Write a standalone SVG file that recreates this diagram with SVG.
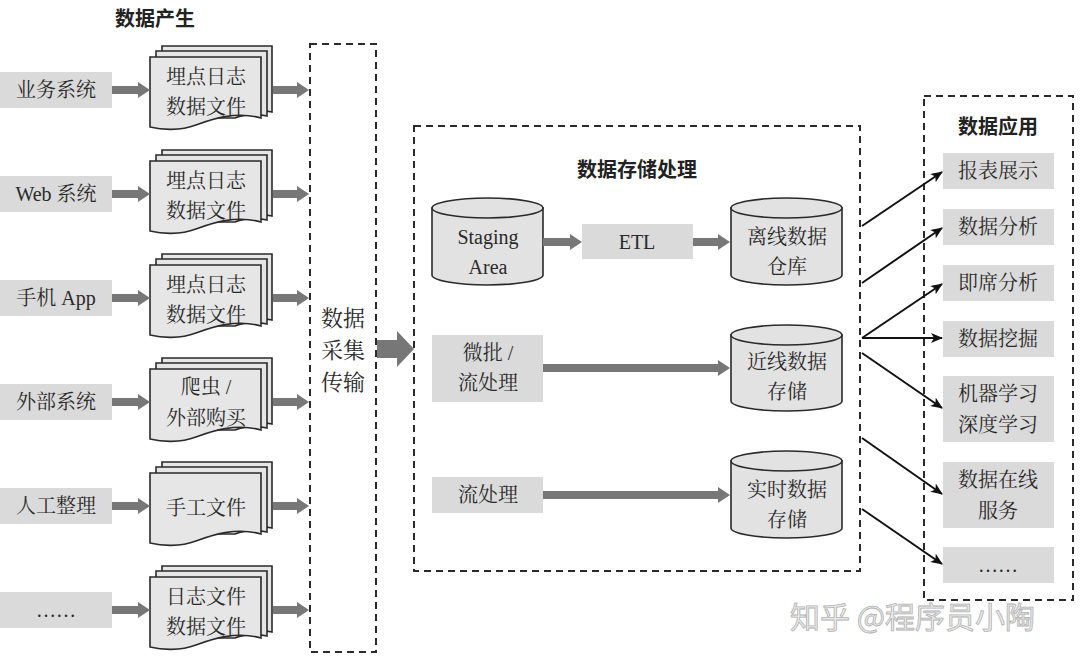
<svg xmlns="http://www.w3.org/2000/svg" xmlns:xlink="http://www.w3.org/1999/xlink" width="1080" height="661" viewBox="0 0 1080 661">
<style>
  .t { font-family: "Liberation Serif", "Noto Serif CJK SC", "Noto Sans CJK SC", serif; font-size: 20px; fill: #2a2a2a; text-anchor: middle; dominant-baseline: central; }
  .h { font-family: "Noto Sans CJK SC", "Liberation Sans", sans-serif; font-size: 20px; font-weight: bold; fill: #222; text-anchor: middle; dominant-baseline: central; }
  .box { fill: #dadada; }
  .page { fill: #e6e6e6; stroke: #2a2a2a; stroke-width: 1.6; }
  .cyl { fill: #e2e2e2; stroke: #2a2a2a; stroke-width: 1.6; }
  .dash { fill: none; stroke: #2a2a2a; stroke-width: 2; stroke-dasharray: 7 5; }
  .fat { fill: #777; }
  .thin { stroke: #111; stroke-width: 2; fill: none; marker-end: url(#ah); }
  .wm { font-family: "Noto Sans CJK SC", sans-serif; font-size: 30px; fill: #ececec; stroke: #b0b0b0; stroke-width: 0.8; }
</style>
<defs>
  <marker id="ah" viewBox="0 0 12 10" refX="11" refY="5" markerWidth="12" markerHeight="10" markerUnits="userSpaceOnUse" orient="auto">
    <path d="M0,0 L12,5 L0,10 L3,5 Z" fill="#111"/>
  </marker>
  <g id="doc">
    <path class="page" d="M12,-11 H122 V55 C110,52 100,53 90,57 L12,57 Z"/>
    <path class="page" d="M6,-6 H117 V59 C105,56 95,57 85,61 L6,61 Z"/>
    <path class="page" d="M0,0 H111 V61 C86,54 62,62 46,68 C30,74 12,73 0,70 Z"/>
  </g>
</defs>
<rect width="1080" height="661" fill="#fff"/>

<text class="h" x="155" y="17">数据产生</text>

<g id="sources">
  <g id="src1"><rect class="box" x="0" y="72" width="112" height="36"/><text class="t" x="56" y="90">业务系统</text></g>
  <g id="src2"><rect class="box" x="0" y="176" width="112" height="36"/><text class="t" x="56" y="194">Web 系统</text></g>
  <g id="src3"><rect class="box" x="0" y="280" width="112" height="36"/><text class="t" x="56" y="298">手机 App</text></g>
  <g id="src4"><rect class="box" x="0" y="384" width="112" height="36"/><text class="t" x="56" y="402">外部系统</text></g>
  <g id="src5"><rect class="box" x="0" y="488" width="112" height="36"/><text class="t" x="56" y="506">人工整理</text></g>
  <g id="src6"><rect class="box" x="0" y="592" width="112" height="36"/><text class="t" x="56" y="610">……</text></g>
</g>

<g id="docs">
  <g id="doc1"><use xlink:href="#doc" href="#doc" x="150" y="57"/><text class="t" x="206" y="77">埋点日志</text><text class="t" x="206" y="107">数据文件</text></g>
  <g id="doc2"><use xlink:href="#doc" href="#doc" x="150" y="161"/><text class="t" x="206" y="181">埋点日志</text><text class="t" x="206" y="211">数据文件</text></g>
  <g id="doc3"><use xlink:href="#doc" href="#doc" x="150" y="265"/><text class="t" x="206" y="285">埋点日志</text><text class="t" x="206" y="315">数据文件</text></g>
  <g id="doc4"><use xlink:href="#doc" href="#doc" x="150" y="369"/><text class="t" x="206" y="387">爬虫 /</text><text class="t" x="206" y="418">外部购买</text></g>
  <g id="doc5"><use xlink:href="#doc" href="#doc" x="150" y="473"/><text class="t" x="206" y="508">手工文件</text></g>
  <g id="doc6"><use xlink:href="#doc" href="#doc" x="150" y="577"/><text class="t" x="206" y="597">日志文件</text><text class="t" x="206" y="627">数据文件</text></g>
</g>

<g id="collect">
  <rect class="dash" x="310" y="44" width="66" height="608"/>
  <text class="t" x="343" y="318" style="font-size:22px">数据</text>
  <text class="t" x="343" y="350" style="font-size:22px">采集</text>
  <text class="t" x="343" y="382" style="font-size:22px">传输</text>
</g>

<g id="storage">
  <rect class="dash" x="414" y="126" width="446" height="445"/>
  <text class="h" x="637" y="168">数据存储处理</text>
  <g id="staging">
    <path class="cyl" d="M432,208 V275 A55.5,10 0 0 0 543,275 V208 Z"/>
    <ellipse class="cyl" cx="487.5" cy="208" rx="55.5" ry="10"/>
    <text class="t" x="488" y="237">Staging</text><text class="t" x="488" y="267">Area</text>
  </g>
  <g id="etl"><rect class="box" x="582" y="224" width="111" height="35"/><text class="t" x="637" y="242">ETL</text></g>
  <g id="offline">
    <path class="cyl" d="M731,208 V275 A55.5,10 0 0 0 842,275 V208 Z"/>
    <ellipse class="cyl" cx="786.5" cy="208" rx="55.5" ry="10"/>
    <text class="t" x="787" y="237">离线数据</text><text class="t" x="787" y="267">仓库</text>
  </g>
  <g id="micro"><rect class="box" x="432" y="335" width="111" height="67"/><text class="t" x="488" y="353">微批 /</text><text class="t" x="488" y="383">流处理</text></g>
  <g id="nearline">
    <path class="cyl" d="M731,335 V401 A55.5,10 0 0 0 842,401 V335 Z"/>
    <ellipse class="cyl" cx="786.5" cy="335" rx="55.5" ry="10"/>
    <text class="t" x="787" y="362">近线数据</text><text class="t" x="787" y="392">存储</text>
  </g>
  <g id="stream"><rect class="box" x="432" y="477" width="111" height="36"/><text class="t" x="488" y="495">流处理</text></g>
  <g id="realtime">
    <path class="cyl" d="M731,461 V528 A55.5,10 0 0 0 842,528 V461 Z"/>
    <ellipse class="cyl" cx="786.5" cy="461" rx="55.5" ry="10"/>
    <text class="t" x="787" y="490">实时数据</text><text class="t" x="787" y="520">存储</text>
  </g>
</g>

<g id="apps">
  <rect class="dash" x="924" y="96" width="149" height="504"/>
  <text class="h" x="998" y="125">数据应用</text>
  <g id="app1"><rect class="box" x="943" y="153" width="111" height="36"/><text class="t" x="998" y="171">报表展示</text></g>
  <g id="app2"><rect class="box" x="943" y="209" width="111" height="36"/><text class="t" x="998" y="227">数据分析</text></g>
  <g id="app3"><rect class="box" x="943" y="265" width="111" height="36"/><text class="t" x="998" y="283">即席分析</text></g>
  <g id="app4"><rect class="box" x="943" y="321" width="111" height="36"/><text class="t" x="998" y="339">数据挖掘</text></g>
  <g id="app5"><rect class="box" x="943" y="376" width="111" height="66"/><text class="t" x="998" y="394">机器学习</text><text class="t" x="998" y="425">深度学习</text></g>
  <g id="app6"><rect class="box" x="943" y="462" width="111" height="66"/><text class="t" x="998" y="480">数据在线</text><text class="t" x="998" y="511">服务</text></g>
  <g id="app7"><rect class="box" x="943" y="547" width="111" height="36"/><text class="t" x="998" y="565">……</text></g>
</g>

<g id="connectors">
  <path class="fat" d="M112,86 H138 V82 L150,90 L138,98 V94 H112 Z"/>
  <path class="fat" d="M112,190 H138 V186 L150,194 L138,202 V198 H112 Z"/>
  <path class="fat" d="M112,294 H138 V290 L150,298 L138,306 V302 H112 Z"/>
  <path class="fat" d="M112,398 H138 V394 L150,402 L138,410 V406 H112 Z"/>
  <path class="fat" d="M112,502 H138 V498 L150,506 L138,514 V510 H112 Z"/>
  <path class="fat" d="M112,606 H138 V602 L150,610 L138,618 V614 H112 Z"/>

  <path class="fat" d="M273,86 H297 V82 L309,90 L297,98 V94 H273 Z"/>
  <path class="fat" d="M273,190 H297 V186 L309,194 L297,202 V198 H273 Z"/>
  <path class="fat" d="M273,294 H297 V290 L309,298 L297,306 V302 H273 Z"/>
  <path class="fat" d="M273,398 H297 V394 L309,402 L297,410 V406 H273 Z"/>
  <path class="fat" d="M273,502 H297 V498 L309,506 L297,514 V510 H273 Z"/>
  <path class="fat" d="M273,606 H297 V602 L309,610 L297,618 V614 H273 Z"/>

  <path class="fat" d="M377,340 H397 V331 L414,349 L397,367 V358 H377 Z"/>

  <path class="fat" d="M543,238 H570 V234 L582,242 L570,250 V246 H543 Z"/>
  <path class="fat" d="M693,238 H718 V234 L730,242 L718,250 V246 H693 Z"/>
  <path class="fat" d="M543,364 H718 V360 L730,368 L718,376 V372 H543 Z"/>
  <path class="fat" d="M543,491 H718 V487 L730,495 L718,503 V499 H543 Z"/>

  <line class="thin" x1="862" y1="226" x2="942" y2="172"/>
  <line class="thin" x1="862" y1="283" x2="942" y2="228"/>
  <line class="thin" x1="862" y1="338" x2="942" y2="284"/>
  <line class="thin" x1="862" y1="338" x2="942" y2="338"/>
  <line class="thin" x1="862" y1="353" x2="942" y2="408"/>
  <line class="thin" x1="862" y1="438" x2="942" y2="494"/>
  <line class="thin" x1="862" y1="509" x2="942" y2="564"/>
</g>

<text class="wm" x="790" y="628">知乎 @程序员小陶</text>
</svg>
